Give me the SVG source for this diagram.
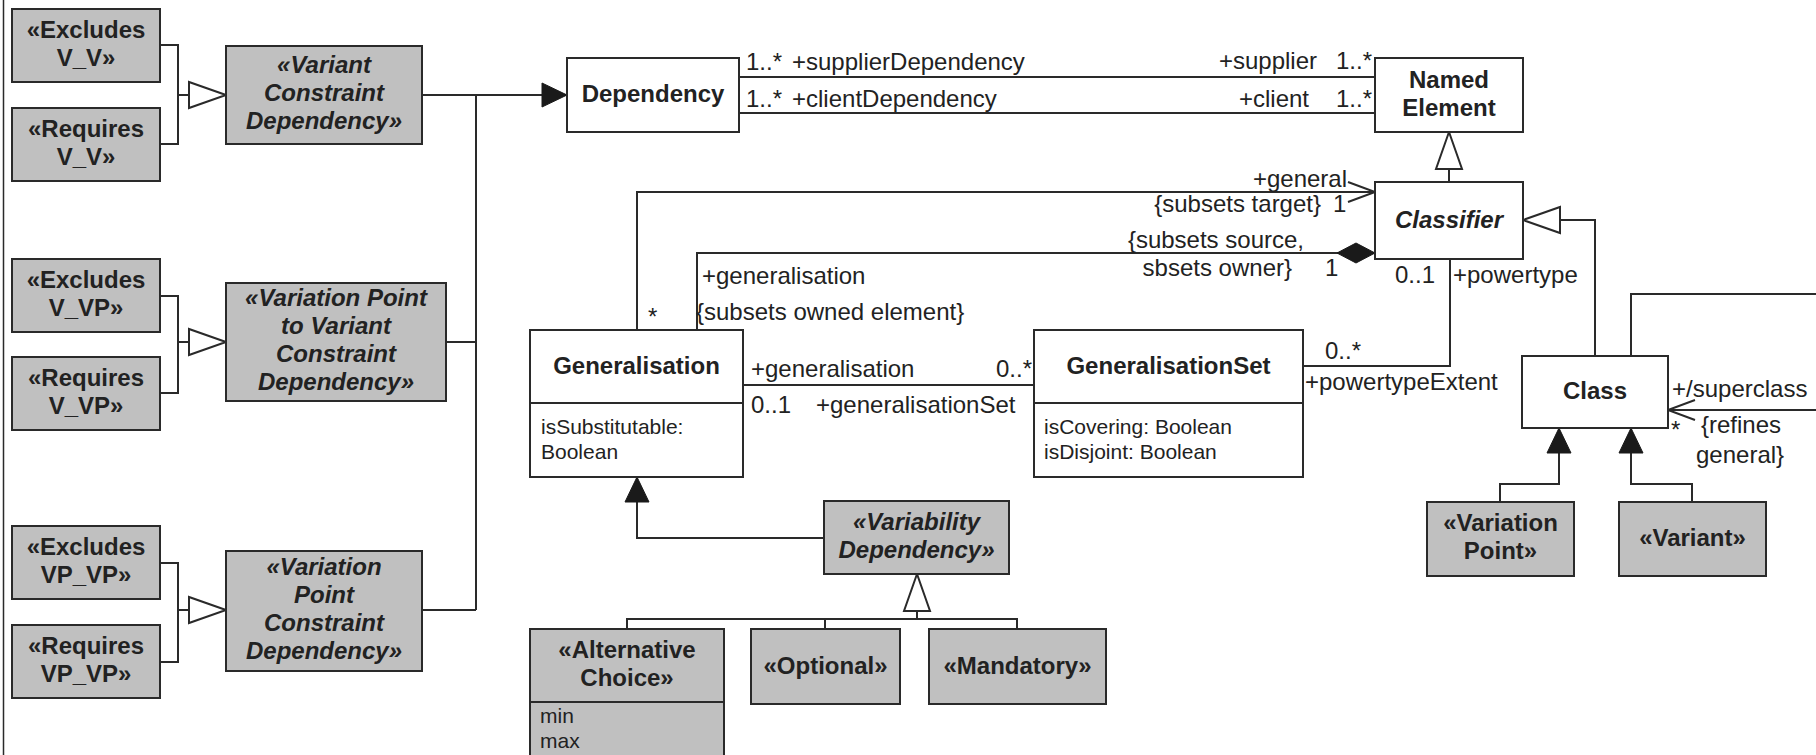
<svg xmlns="http://www.w3.org/2000/svg" width="1816" height="755" viewBox="0 0 1816 755">
<style>
.st{fill:#c0c0c0;stroke:#2a2a2a;stroke-width:2}
.cl{fill:#fff;stroke:#2a2a2a;stroke-width:2}
.ln{fill:none;stroke:#2a2a2a;stroke-width:2}
.b{font-family:"Liberation Sans",Arial,sans-serif;font-weight:bold;font-size:24px;fill:#222;text-anchor:middle}
.bi{font-family:"Liberation Sans",Arial,sans-serif;font-weight:bold;font-style:italic;font-size:24px;fill:#222;text-anchor:middle}
.r{font-family:"Liberation Sans",Arial,sans-serif;font-size:24px;fill:#222}
.e{text-anchor:end}
.a{font-family:"Liberation Sans",Arial,sans-serif;font-size:21px;fill:#222}
</style>
<defs>
<marker id="hollow" markerUnits="userSpaceOnUse" viewBox="-40 -15 42 30" markerWidth="42" markerHeight="30" refX="0" refY="0" orient="auto" overflow="visible"><path d="M0,0 L-37,-13 L-37,13 Z" fill="#fff" stroke="#2a2a2a" stroke-width="2"/></marker>
<marker id="filled" markerUnits="userSpaceOnUse" viewBox="-28 -14 30 28" markerWidth="30" markerHeight="28" refX="0" refY="0" orient="auto" overflow="visible"><path d="M0,0 L-25,-12 L-25,12 Z" fill="#1a1a1a" stroke="#1a1a1a" stroke-width="1"/></marker>
<marker id="open" markerUnits="userSpaceOnUse" viewBox="-30 -12 32 24" markerWidth="32" markerHeight="24" refX="0" refY="0" orient="auto" overflow="visible"><path d="M-27,-10 L0,0 L-27,10" fill="none" stroke="#2a2a2a" stroke-width="2"/></marker>
<marker id="diamond" markerUnits="userSpaceOnUse" viewBox="-40 -12 42 24" markerWidth="42" markerHeight="24" refX="0" refY="0" orient="auto" overflow="visible"><path d="M0,0 L-19,-10 L-38,0 L-19,10 Z" fill="#1a1a1a" stroke="#1a1a1a" stroke-width="1"/></marker>
</defs>
<rect x="0" y="0" width="1816" height="755" fill="#fff"/>
<line x1="3.5" y1="0" x2="3.5" y2="755" stroke="#2a2a2a" stroke-width="1.5"/>

<g id="connectors">
<path class="ln" d="M160,45 H178 V144 H160"/>
<path class="ln" d="M178,95 H226" marker-end="url(#hollow)"/>
<path class="ln" d="M160,296 H178 V393 H160"/>
<path class="ln" d="M178,342 H226" marker-end="url(#hollow)"/>
<path class="ln" d="M160,563 H178 V662 H160"/>
<path class="ln" d="M178,610 H226" marker-end="url(#hollow)"/>
<path class="ln" d="M476,610 V95"/>
<path class="ln" d="M446,342 H476"/>
<path class="ln" d="M422,610 H476"/>
<path class="ln" d="M422,95 H567" marker-end="url(#filled)"/>
<path class="ln" d="M739,77 H1375"/>
<path class="ln" d="M739,113 H1375"/>
<path class="ln" d="M1449,182 V132" marker-end="url(#hollow)"/>
<path class="ln" d="M1595,356 V220 H1523" marker-end="url(#hollow)"/>
<path class="ln" d="M637,330 V192 H1375" marker-end="url(#open)"/>
<path class="ln" d="M697,330 V253 H1375" marker-end="url(#diamond)"/>
<path class="ln" d="M743,385 H1034"/>
<path class="ln" d="M1303,366 H1450 V259"/>
<path class="ln" d="M1631,356 V294 H1816"/>
<path class="ln" d="M1816,410 H1668" marker-end="url(#open)"/>
<path class="ln" d="M1500,502 V484 H1559 V428" marker-end="url(#filled)"/>
<path class="ln" d="M1692,502 V484 H1631 V428" marker-end="url(#filled)"/>
<path class="ln" d="M824,538 H637 V477" marker-end="url(#filled)"/>
<path class="ln" d="M627,629 V619 H1017 V629"/>
<path class="ln" d="M825,619 V629"/>
<path class="ln" d="M917,619 V574" marker-end="url(#hollow)"/>
<text class="r" x="746" y="70">1..*</text>
<text class="r" x="792" y="70">+supplierDependency</text>
<text class="r" x="746" y="107">1..*</text>
<text class="r" x="792" y="107">+clientDependency</text>
<text class="r e" x="1317" y="69">+supplier</text>
<text class="r" x="1336" y="69">1..*</text>
<text class="r e" x="1309" y="107">+client</text>
<text class="r" x="1336" y="107">1..*</text>
<text class="r e" x="1347" y="187">+general</text>
<text class="r e" x="1321" y="212">{subsets target}</text>
<text class="r" x="1333" y="212">1</text>
<text class="r e" x="1304" y="248">{subsets source,</text>
<text class="r e" x="1292" y="276">sbsets owner}</text>
<text class="r" x="1325" y="276">1</text>
<text class="r" x="1395" y="283">0..1</text>
<text class="r" x="1453" y="283">+powertype</text>
<text class="r" x="702" y="284">+generalisation</text>
<text class="r" x="696" y="320">{subsets owned element}</text>
<text class="r" x="648" y="325">*</text>
<text class="r" x="751" y="377">+generalisation</text>
<text class="r e" x="1032" y="377">0..*</text>
<text class="r" x="751" y="413">0..1</text>
<text class="r" x="816" y="413">+generalisationSet</text>
<text class="r" x="1325" y="359">0..*</text>
<text class="r" x="1305" y="390">+powertypeExtent</text>
<text class="r" x="1672" y="397">+/superclass</text>
<text class="r" x="1671" y="438">*</text>
<text class="r" x="1701" y="433">{refines</text>
<text class="r" x="1696" y="463">general}</text>
</g>

<g id="excludes-vv"><rect class="st" x="12" y="9" width="148" height="73"/><text class="b" x="86" y="38">«Excludes</text><text class="b" x="86" y="66">V_V»</text></g>
<g id="requires-vv"><rect class="st" x="12" y="108" width="148" height="73"/><text class="b" x="86" y="137">«Requires</text><text class="b" x="86" y="165">V_V»</text></g>
<g id="variant-constraint-dependency"><rect class="st" x="226" y="46" width="196" height="98"/><text class="bi" x="324" y="73">«Variant</text><text class="bi" x="324" y="101">Constraint</text><text class="bi" x="324" y="129">Dependency»</text></g>
<g id="excludes-vvp"><rect class="st" x="12" y="259" width="148" height="73"/><text class="b" x="86" y="288">«Excludes</text><text class="b" x="86" y="316">V_VP»</text></g>
<g id="requires-vvp"><rect class="st" x="12" y="357" width="148" height="73"/><text class="b" x="86" y="386">«Requires</text><text class="b" x="86" y="414">V_VP»</text></g>
<g id="vp-to-variant-constraint-dependency"><rect class="st" x="226" y="283" width="220" height="118"/><text class="bi" x="336" y="306">«Variation Point</text><text class="bi" x="336" y="334">to Variant</text><text class="bi" x="336" y="362">Constraint</text><text class="bi" x="336" y="390">Dependency»</text></g>
<g id="excludes-vpvp"><rect class="st" x="12" y="526" width="148" height="73"/><text class="b" x="86" y="555">«Excludes</text><text class="b" x="86" y="583">VP_VP»</text></g>
<g id="requires-vpvp"><rect class="st" x="12" y="625" width="148" height="73"/><text class="b" x="86" y="654">«Requires</text><text class="b" x="86" y="682">VP_VP»</text></g>
<g id="vp-constraint-dependency"><rect class="st" x="226" y="551" width="196" height="120"/><text class="bi" x="324" y="575">«Variation</text><text class="bi" x="324" y="603">Point</text><text class="bi" x="324" y="631">Constraint</text><text class="bi" x="324" y="659">Dependency»</text></g>

<g id="dependency"><rect class="cl" x="567" y="58" width="172" height="74"/><text class="b" x="653" y="102">Dependency</text></g>
<g id="named-element"><rect class="cl" x="1375" y="58" width="148" height="74"/><text class="b" x="1449" y="88">Named</text><text class="b" x="1449" y="116">Element</text></g>
<g id="classifier"><rect class="cl" x="1375" y="182" width="148" height="77"/><text class="bi" x="1449" y="228">Classifier</text></g>
<g id="generalisation"><rect class="cl" x="530" y="330" width="213" height="147"/><line class="ln" x1="530" y1="403" x2="743" y2="403"/><text class="b" x="636.5" y="374">Generalisation</text><text class="a" x="541" y="434">isSubstitutable:</text><text class="a" x="541" y="459">Boolean</text></g>
<g id="generalisation-set"><rect class="cl" x="1034" y="330" width="269" height="147"/><line class="ln" x1="1034" y1="403" x2="1303" y2="403"/><text class="b" x="1168.5" y="374">GeneralisationSet</text><text class="a" x="1044" y="434">isCovering: Boolean</text><text class="a" x="1044" y="459">isDisjoint: Boolean</text></g>
<g id="class"><rect class="cl" x="1522" y="356" width="146" height="72"/><text class="b" x="1595" y="399">Class</text></g>
<g id="variability-dependency"><rect class="st" x="824" y="501" width="185" height="73"/><text class="bi" x="916.5" y="530">«Variability</text><text class="bi" x="916.5" y="558">Dependency»</text></g>
<g id="alternative-choice"><rect class="st" x="530" y="629" width="194" height="140"/><line class="ln" x1="530" y1="702" x2="724" y2="702"/><text class="b" x="627" y="658">«Alternative</text><text class="b" x="627" y="686">Choice»</text><text class="a" x="540" y="723">min</text><text class="a" x="540" y="748">max</text></g>
<g id="optional"><rect class="st" x="751" y="629" width="149" height="75"/><text class="b" x="825.5" y="674">«Optional»</text></g>
<g id="mandatory"><rect class="st" x="929" y="629" width="177" height="75"/><text class="b" x="1017.5" y="674">«Mandatory»</text></g>
<g id="variation-point"><rect class="st" x="1427" y="502" width="147" height="74"/><text class="b" x="1500.5" y="531">«Variation</text><text class="b" x="1500.5" y="559">Point»</text></g>
<g id="variant"><rect class="st" x="1619" y="502" width="147" height="74"/><text class="b" x="1692.5" y="546">«Variant»</text></g>
</svg>
